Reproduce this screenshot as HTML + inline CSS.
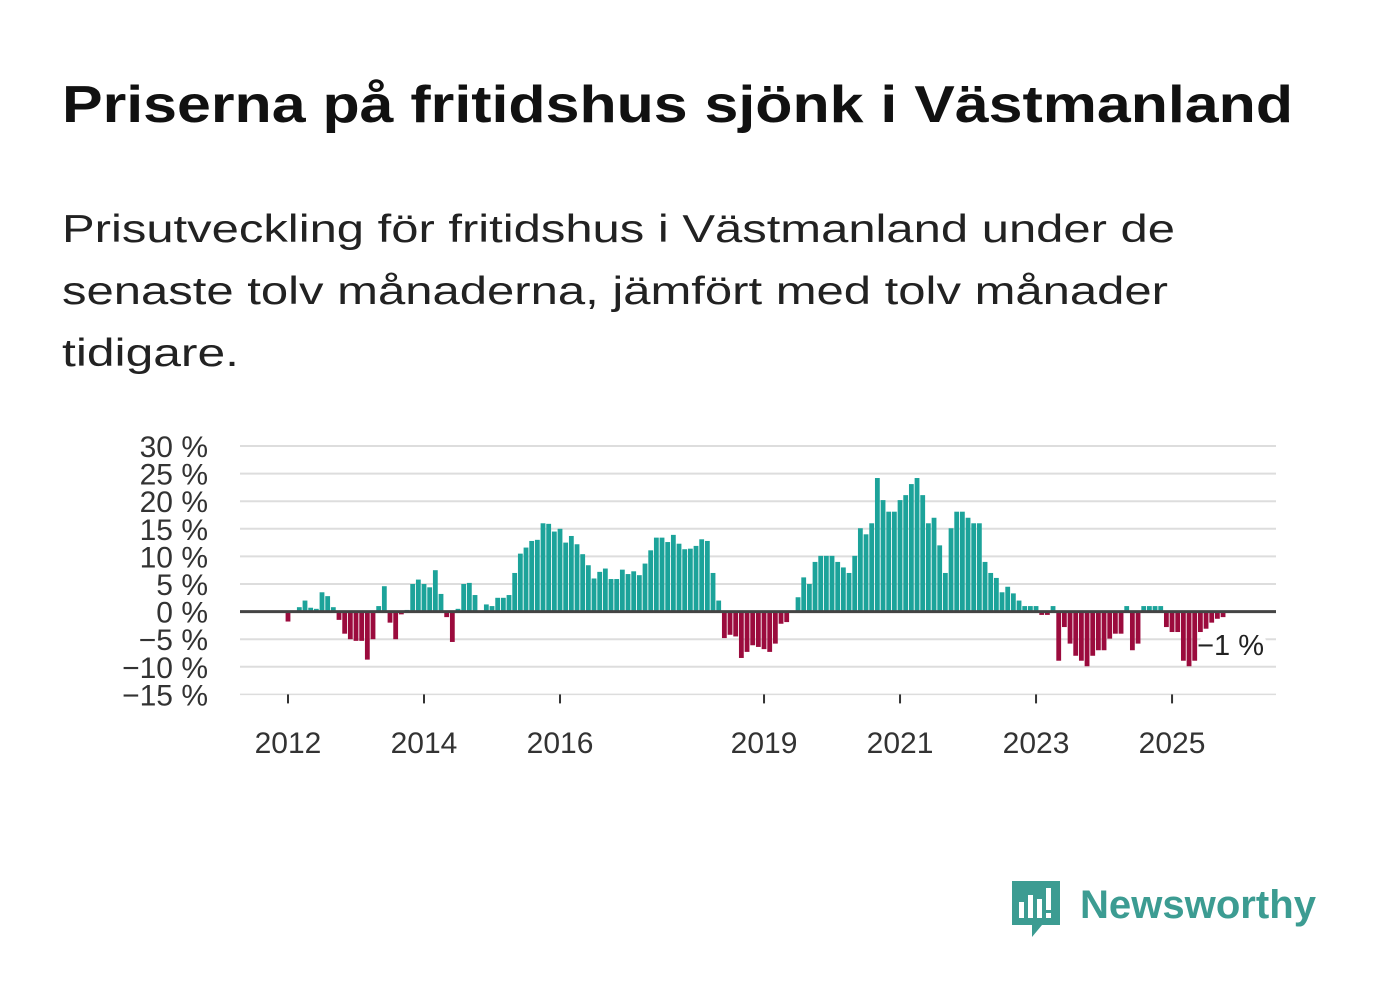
<!DOCTYPE html>
<html><head><meta charset="utf-8"><style>
html,body{margin:0;padding:0;background:#fff}
svg{display:block;font-family:"Liberation Sans",sans-serif}
</style></head><body>
<svg id="chart" width="1382" height="999" viewBox="0 0 1382 999" xmlns="http://www.w3.org/2000/svg">
<text x="62" y="122" font-size="52" font-weight="bold" fill="#111" textLength="1231" lengthAdjust="spacingAndGlyphs">Priserna på fritidshus sjönk i Västmanland</text>
<g font-size="39" fill="#222">
<text x="62" y="242" textLength="1113" lengthAdjust="spacingAndGlyphs">Prisutveckling för fritidshus i Västmanland under de</text>
<text x="62" y="304" textLength="1106" lengthAdjust="spacingAndGlyphs">senaste tolv månaderna, jämfört med tolv månader</text>
<text x="62" y="366" textLength="177" lengthAdjust="spacingAndGlyphs">tidigare.</text>
</g>
<g id="grid"></g>
<g id="ylabels"></g>
<g id="bars"></g>
<g id="xaxis"></g>
<g>
<rect x="1200" y="632" width="66" height="27" rx="10" fill="#fff"/>
<text x="1264" y="655" font-size="29" fill="#222" text-anchor="end">−1 %</text>
</g>
<g>
<path d="M1012 881 h48 v44 h-18 l-10 12 v-12 h-20 z" fill="#3c9c92"/>
<rect x="1019" y="902" width="5" height="16" fill="#fff"/>
<rect x="1028" y="895" width="5" height="23" fill="#fff"/>
<rect x="1037" y="899" width="5" height="19" fill="#fff"/>
<rect x="1046" y="888" width="5" height="22" fill="#fff"/>
<rect x="1046" y="913" width="5" height="5" fill="#fff"/>
<text x="1080" y="918" font-size="40" font-weight="bold" fill="#3c9c92" textLength="236" lengthAdjust="spacingAndGlyphs">Newsworthy</text>
</g>
</svg>
<script>
const values = [-1.8,0,0.8,2,0.7,0.5,3.5,2.8,0.8,-1.5,-4,-5,-5.3,-5.3,-8.7,-5,1,4.6,-2,-5,-0.5,0.3,5,5.8,5,4.4,7.5,3.2,-1,-5.5,0.5,5,5.2,3,0,1.3,1,2.5,2.5,3,
7,10.5,11.6,12.8,13,16,15.9,14.5,15,12.5,13.7,12.2,10.4,8.4,6,7.2,7.8,5.9,5.9,7.6,6.8,7.3,6.6,8.7,11.1,13.4,13.4,12.6,13.9,12.3,11.3,11.4,11.9,13.1,12.8,7,2,-4.8,-4.2,-4.5,
-8.4,-7.3,-6.1,-6.4,-6.8,-7.3,-5.8,-2.2,-1.9,0,2.6,6.2,5,9,10.1,10.1,10.1,9,8,7,10.1,15.1,14,16,24.2,20.2,18.1,18.1,20.2,21.1,23.1,24.2,21.1,16,17,12,7,15.1,18.1,18.1,17,16,16,9,7,6.1,
3.5,4.5,3.3,2,1,1,1,-0.6,-0.6,1,-8.9,-2.8,-5.8,-8,-8.9,-9.9,-8,-7,-7,-4.9,-4,-4,1,-7,-5.8,1,1,1,1,-2.8,-3.7,-3.7,-8.9,-9.9,-8.9,-3.7,-3.1,-2,-1.3,-1];
const yTicks = [30,25,20,15,10,5,0,-5,-10,-15];
const yTickLabels = ["30 %","25 %","20 %","15 %","10 %","5 %","0 %","−5 %","−10 %","−15 %"];
const xTickMonths = [0,24,48,84,108,132,156];
const xTickLabels = ["2012","2014","2016","2019","2021","2023","2025"];

const NS="http://www.w3.org/2000/svg";
const X0=240,X1=1276,Y30=446,PX=27.6/5;
const y=v=>Y30+(30-v)*PX;
const x=i=>288+i*5.667;
function mk(tag,attrs,parent){const e=document.createElementNS(NS,tag);for(const k in attrs)e.setAttribute(k,attrs[k]);parent.appendChild(e);return e;}
const grid=document.getElementById('grid'),yl=document.getElementById('ylabels'),bars=document.getElementById('bars'),xa=document.getElementById('xaxis');
yTicks.forEach((t,k)=>{
  if(t!==0){const l=mk('line',{x1:X0,x2:X1,y1:y(t),y2:y(t),stroke:'#ddd','stroke-width':t===-15?1.5:2},grid);
  
  }
  const tx=mk('text',{x:208,y:y(t)+11,'font-size':30,fill:'#333','text-anchor':'end'},yl);
  tx.textContent=yTickLabels[k];
  
  
});
values.forEach((v,i)=>{
  const r=mk('rect',{x:x(i)-2.4,width:4.8,y:Math.min(y(v),y(0)),height:Math.abs(y(v)-y(0)),fill:v>=0?'#1ca39a':'#9b0b3d'},bars);
  
  
});
const zl=mk('line',{x1:X0,x2:X1,y1:y(0),y2:y(0),stroke:'#444','stroke-width':3},xa);


xTickMonths.forEach((m,k)=>{
  const t=mk('line',{x1:x(m),x2:x(m),y1:y(-15),y2:y(-15)+9,stroke:'#333','stroke-width':2},xa);
  
  
  const tx=mk('text',{x:x(m),y:753,'font-size':30,fill:'#333','text-anchor':'middle'},xa);
  tx.textContent=xTickLabels[k];
  
  
});
</script>
</body></html>
